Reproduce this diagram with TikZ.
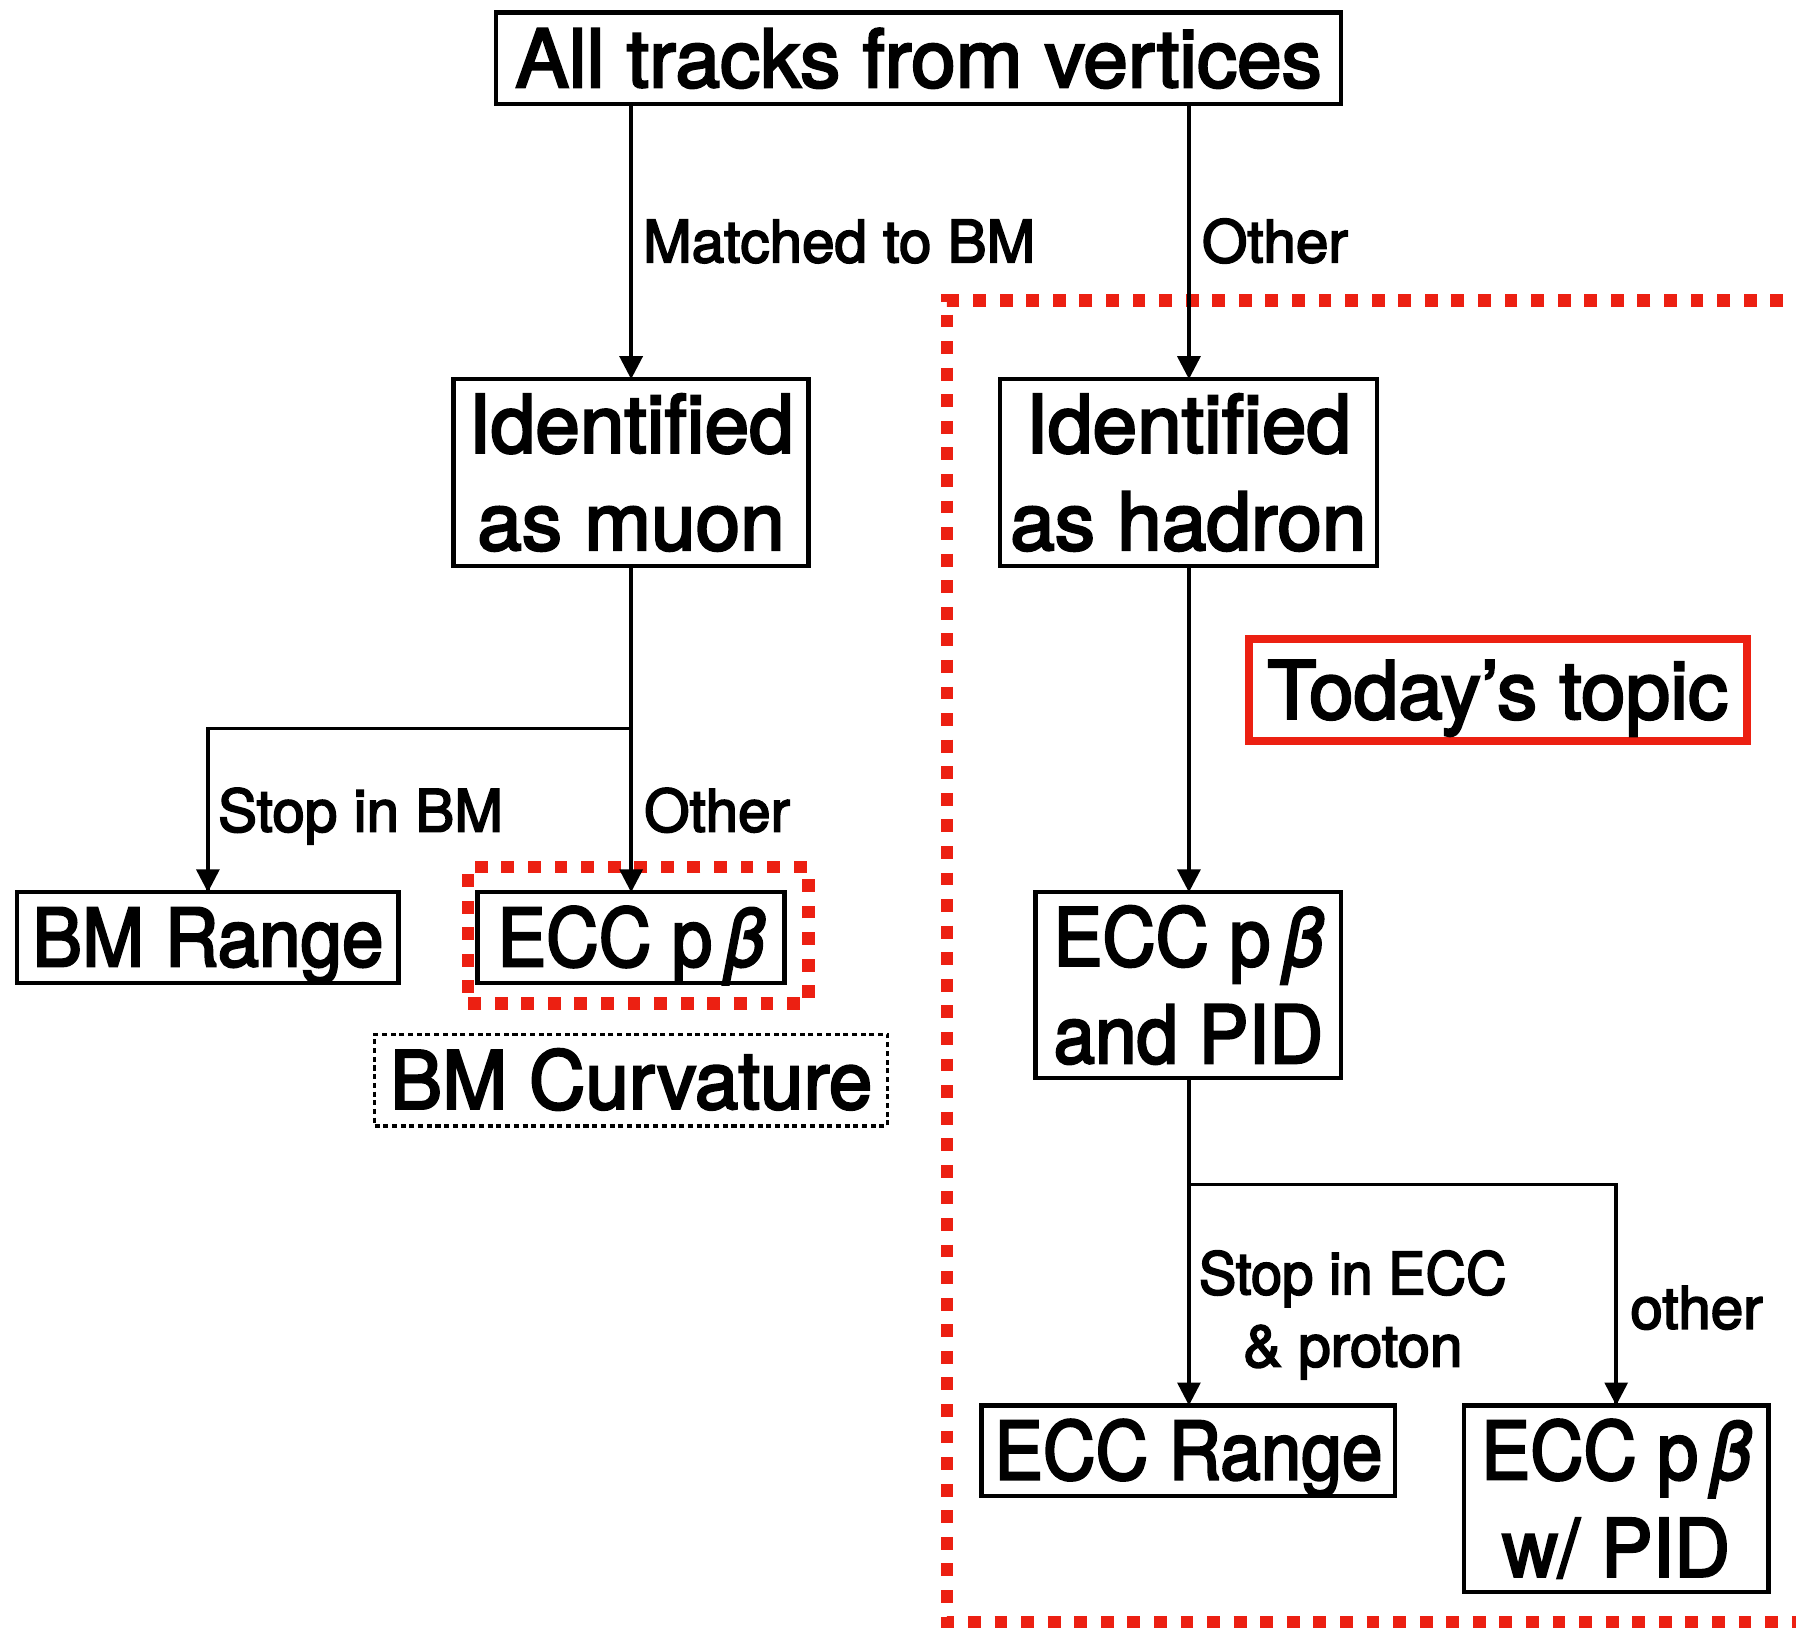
\documentclass[tikz,border=0pt]{standalone}
\usepackage{fontspec}
\setmainfont{TeX Gyre Heros}[FakeBold=3]
\usetikzlibrary{arrows.meta}
\definecolor{myred}{RGB}{236,32,18}
\newcommand\bigf{\fontsize{35}{42.5}\selectfont}
\newcommand\labf{\fontsize{25.5}{31}\selectfont}
\newcommand\sx[2]{\scalebox{#1}[1]{#2}}
\tikzset{
  box/.style={draw, line width=1.9pt, inner sep=0pt, outer sep=0pt, align=center, font=\bigf},
  onel/.style={text height=25pt, text depth=0pt},
  arr/.style={line width=1.5pt, -{Triangle[length=10pt,width=10pt]}},
  conn/.style={line width=1.5pt},
  lab/.style={font=\labf, inner sep=0pt, anchor=base west},
  labc/.style={font=\labf, inner sep=0pt, anchor=base},
  reddash/.style={draw=myred, line width=5.4pt, dash pattern=on 5.6pt off 6pt},
}
\begin{document}
\begin{tikzpicture}[x=0.5pt,y=-0.5pt]
\useasboundingbox (0,0) rectangle (1568,1422);
% big red region
\draw[reddash] (1580,262.5) -- (826.5,262.5) -- (826.5,1416) -- (1580,1416);
% nodes
\node[box,onel,minimum width=369pt,minimum height=40pt] (top) at (802,51) {All tracks from vertices};
\node[box,minimum width=155pt,minimum height=81.5pt] (muon) at (551,412.5) {Identified\\as muon};
\node[box,minimum width=164.5pt,minimum height=81.5pt] (hadron) at (1037.5,412.5) {Identified\\as hadron};
\node[box,onel,minimum width=166.5pt,minimum height=39.5pt] (bmrange) at (181.5,818.5) {\sx{0.93}{BM Range}};
\node[box,onel,minimum width=134pt,minimum height=39.5pt] (eccmu) at (551,818.5) {\sx{0.91}{ECC p\,\textit{β}}};
\node[box,minimum width=133.5pt,minimum height=81pt] (eccpid) at (1037.5,860) {\sx{0.92}{ECC p\,\textit{β}}\\\sx{0.93}{and PID}};
\node[box,onel,minimum width=180.5pt,minimum height=39.5pt] (eccrange) at (1037.5,1266.5) {\sx{0.91}{ECC Range}};
\node[box,minimum width=133pt,minimum height=81.5pt] (eccw) at (1411,1308.5) {\sx{0.92}{ECC p\,\textit{β}}\\\sx{0.965}{w/ PID}};
\node[box,onel,draw=myred,line width=3.5pt,minimum width=217.5pt,minimum height=44.5pt] (today) at (1307.5,602.5) {Today’s topic};
\node[box,onel,line width=1.4pt,dash pattern=on 2.2pt off 1.6pt,minimum width=224pt,minimum height=40pt] (bmcurv) at (551,943) {\sx{0.975}{BM Curvature}};
\node[reddash,inner sep=0pt,minimum width=148.5pt,minimum height=59.5pt] (redsmall) at (557.25,816.5) {};
% coordinates
\coordinate (j1) at (551,636);
\coordinate (j2) at (1038,1034);
% connectors
\draw[arr] (top.south -| muon.north) -- (muon.north);
\draw[arr] (top.south -| 1038,0) -- (1038,331);
\draw[arr] (muon.south) -- (eccmu.north);
\draw[conn] (j1) -| (bmrange.north);
\draw[arr] (j1 -| bmrange.north) -- (bmrange.north);
\draw[arr] (hadron.south -| 1038,0) -- (eccpid.north -| 1038,0);
\draw[arr] (eccpid.south -| 1038,0) -- (eccrange.north -| 1038,0);
\draw[conn] (j2) -| (eccw.north);
\draw[arr] (j2 -| eccw.north) -- (eccw.north);
% labels
\node[lab] (l1) at (561,229) {Matched to BM};
\node[lab] (l2) at (1049,229) {Other};
\node[lab] (l3) at (190,726) {Stop in BM};
\node[lab] (l4) at (562,726) {Other};
\node[labc] (l5) at (1181,1130) {\sx{0.96}{Stop in ECC}};
\node[labc] (l6) at (1181,1193) {\&\ proton};
\node[lab] (l7) at (1423,1160) {other};
\end{tikzpicture}
\end{document}
